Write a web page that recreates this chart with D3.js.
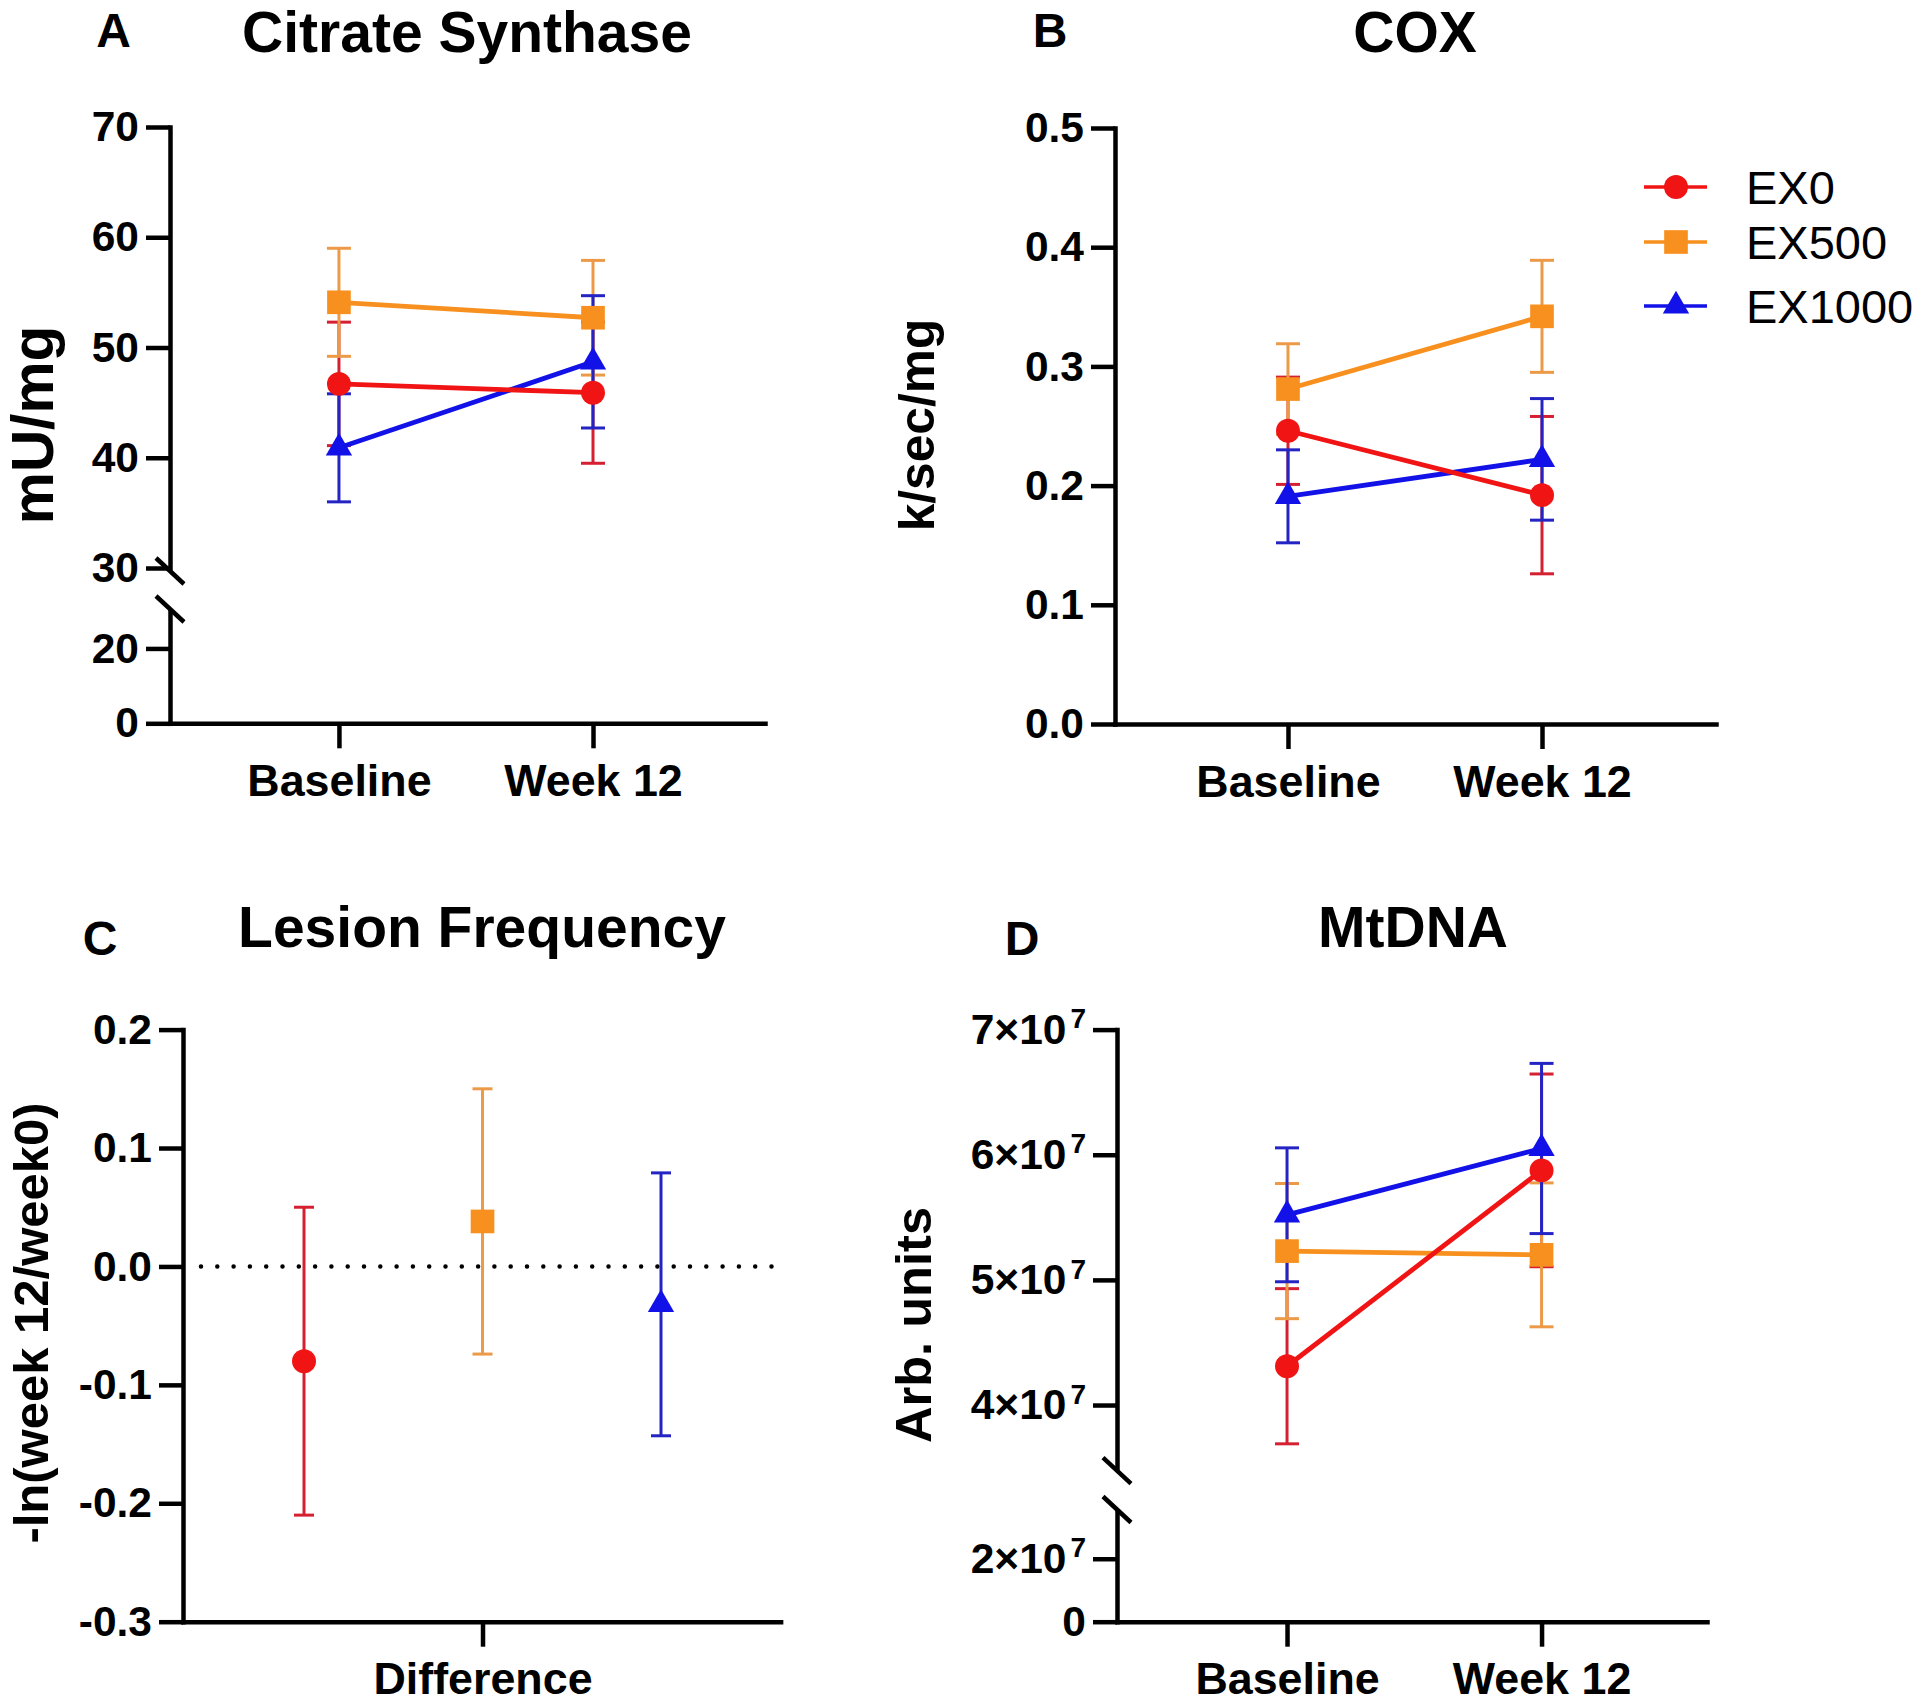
<!DOCTYPE html>
<html><head><meta charset="utf-8">
<script src="https://cdn.jsdelivr.net/npm/d3@7"></script>
<style>
body{margin:0;background:#fff;}
svg text{font-family:"Liberation Sans",Arial,sans-serif;fill:#000;}
</style></head><body>
<svg id="chart" width="1920" height="1703"></svg>
<script>
// ---------------- data ----------------
const groups = ["EX0", "EX500", "EX1000"];
const timepoints = ["Baseline", "Week 12"];
const diffLabel = ["Difference"];

// Citrate synthase (mU/mg): [baseline, week 12] per group
const csMeans = [[46.7, 45.9], [54.1, 52.7], [40.9, 48.7]];
const csErrs  = [[5.6, 6.4], [4.9, 5.2], [4.9, 6.0]];
const csTicksLower = [0, 20];
const csTicksUpper = [30, 40, 50, 60, 70];

// COX (k/sec/mg)
const coxMeans = [[0.246, 0.192], [0.281, 0.342], [0.191, 0.222]];
const coxErrs  = [[0.045, 0.066], [0.038, 0.047], [0.039, 0.051]];
const coxTicks = [0, 0.1, 0.2, 0.3, 0.4, 0.5];

// Lesion frequency: -ln(week12/week0)
const lesionMeans = [-0.080, 0.038, -0.032];
const lesionErrs  = [0.130, 0.112, 0.111];
const lesionTicks = [-0.3, -0.2, -0.1, 0, 0.1, 0.2];

// MtDNA (arb. units)
const mtMeans = [[4.31e7, 5.875e7], [5.23e7, 5.20e7], [5.52e7, 6.05e7]];
const mtErrs  = [[0.62e7, 0.77e7], [0.54e7, 0.575e7], [0.535e7, 0.68e7]];
const mtTicksLower = [0, 2e7];
const mtTicksUpper = [4e7, 5e7, 6e7, 7e7];

// ---------------- style ----------------
const colors    = ["#f01414", "#f7901e", "#1212e8"];
const errColors = ["#d42030", "#ec9a48", "#2424c4"];
const symbolTypes = [d3.symbolCircle, d3.symbolSquare, d3.symbolTriangle];
const symbolSizes = [450, 560, 300];
const FONT = '"Liberation Sans", Arial, sans-serif';

const svg = d3.select("#chart");

function styleAxis(ax, fs) {
  ax.attr("font-family", null).attr("font-size", null);
  ax.select(".domain").attr("stroke", "#000").attr("stroke-width", 4.5).attr("stroke-linecap", "square");
  ax.selectAll(".tick line").attr("stroke", "#000").attr("stroke-width", 4.5);
  ax.selectAll(".tick text").attr("fill", "#000")
    .style("font-size", fs + "px").style("font-weight", "bold").style("font-family", FONT);
}

function panel(p) {
  const g = svg.append("g");
  const x = d3.scaleLinear().domain(p.xDomain).range(p.xRange);
  const segs = p.segments.map(s => Object.assign({}, s, {
    scale: d3.scaleLinear().domain(s.domain).range(s.range)
  }));
  const y = v => {
    const s = segs.find(s => v >= s.domain[0] && v <= s.domain[1]) || segs[segs.length - 1];
    return s.scale(v);
  };
  const x0 = p.xRange[0];
  const yBase = segs[0].range[0];

  // y axes (one per segment)
  segs.forEach(s => {
    const ax = g.append("g").attr("transform", `translate(${x0},0)`)
      .call(d3.axisLeft(s.scale).tickValues(s.ticks).tickFormat(p.yFormat)
        .tickSize(24).tickSizeOuter(0).tickPadding(7));
    styleAxis(ax, 42.5);
    if (p.superscript) {
      ax.selectAll(".tick text").each(function(d) {
        const t = d3.select(this);
        t.text(null);
        if (d === 0) { t.text("0"); return; }
        t.append("tspan").text(`${d / 1e7}×10`);
        t.append("tspan").text("7").style("font-size", "28px").attr("dx", 4).attr("dy", "-0.55em");
      });
    }
  });

  // axis break marks
  if (segs.length > 1) {
    const b = segs[0].domain[1];
    [segs[1].scale(b) + 3, segs[0].scale(b) - 2].forEach(yy => {
      g.append("line").attr("x1", x0 - 14).attr("y1", yy - 13).attr("x2", x0 + 14).attr("y2", yy + 13)
        .attr("stroke", "#000").attr("stroke-width", 4.5);
    });
  }

  // x axis
  const xa = g.append("g").attr("transform", `translate(0,${yBase})`)
    .call(d3.axisBottom(x).tickValues(p.xTicks).tickFormat((d, i) => p.xLabels[i])
      .tickSize(25).tickSizeOuter(0).tickPadding(16));
  styleAxis(xa, 44.8);

  // reference line
  if (p.zeroLine) {
    g.append("line").attr("x1", x0 + 18).attr("x2", p.xRange[1] - 5)
      .attr("y1", y(0)).attr("y2", y(0))
      .attr("stroke", "#000").attr("stroke-width", 4.5)
      .attr("stroke-linecap", "round").attr("stroke-dasharray", "0 16.3");
  }

  const cap = p.capWidth / 2;
  // error bars
  p.series.forEach((s, gi) => {
    s.means.forEach((m, i) => {
      const e = s.errs[i], xi = x(s.xs[i]);
      const eg = g.append("g").attr("stroke", errColors[gi]).attr("stroke-width", 3).attr("fill", "none");
      eg.append("line").attr("x1", xi).attr("x2", xi).attr("y1", y(m - e)).attr("y2", y(m + e));
      eg.append("line").attr("x1", xi - cap).attr("x2", xi + cap).attr("y1", y(m - e)).attr("y2", y(m - e));
      eg.append("line").attr("x1", xi - cap).attr("x2", xi + cap).attr("y1", y(m + e)).attr("y2", y(m + e));
    });
  });
  // connecting lines (drawn last group first so EX0 sits on top)
  const order = [2, 1, 0];
  if (p.connect) {
    order.forEach(gi => {
      const s = p.series[gi];
      g.append("path").datum(s.means)
        .attr("d", d3.line().x((d, i) => x(s.xs[i])).y(d => y(d)))
        .attr("fill", "none").attr("stroke", colors[gi]).attr("stroke-width", 4.8);
    });
  }
  order.forEach(gi => {
    const s = p.series[gi];
    s.means.forEach((m, i) => {
      g.append("path").attr("d", d3.symbol().type(symbolTypes[gi]).size(symbolSizes[gi])())
        .attr("transform", `translate(${x(s.xs[i])},${y(m)})`)
        .attr("fill", colors[gi]);
    });
  });

  // panel letter and title
  svg.append("text").attr("x", p.letterPos[0]).attr("y", p.letterPos[1]).attr("text-anchor", "middle")
    .style("font-size", "48px").style("font-weight", "bold").text(p.letter);
  svg.append("text").attr("x", p.titlePos[0]).attr("y", p.titlePos[1]).attr("text-anchor", "middle")
    .style("font-size", "57px").style("font-weight", "bold").text(p.title);
  // y title
  svg.append("text").attr("transform", `translate(${p.yTitlePos[0]},${p.yTitlePos[1]}) rotate(-90)`)
    .attr("text-anchor", "middle").attr("dy", "0.35em")
    .style("font-size", p.yTitleSize + "px").style("font-weight", "bold").text(p.yTitle);
}

const f1 = v => v.toFixed(1);
const lineSeries = (means, errs) => groups.map((gname, gi) => ({
  means: means[gi], errs: errs[gi], xs: timepoints.map((t, i) => i)
}));

// Panel A
panel({
  letter: "A", letterPos: [113.5, 47], title: "Citrate Synthase", titlePos: [467, 52],
  yTitle: "mU/mg", yTitleSize: 58.5, yTitlePos: [33, 425],
  xDomain: [-0.665, 1.677], xRange: [170, 765],
  segments: [
    { domain: [0, 30], range: [723.3, 611], ticks: csTicksLower },
    { domain: [30, 70], range: [568, 127], ticks: csTicksUpper }
  ],
  yFormat: d => String(d),
  xTicks: [0, 1], xLabels: timepoints,
  series: lineSeries(csMeans, csErrs), connect: true, capWidth: 24
});

// Panel B
panel({
  letter: "B", letterPos: [1050, 47], title: "COX", titlePos: [1415, 52],
  yTitle: "k/sec/mg", yTitleSize: 49.7, yTitlePos: [917, 425],
  xDomain: [-0.681, 1.685], xRange: [1115, 1716],
  segments: [{ domain: [0, 0.5], range: [724, 128], ticks: coxTicks }],
  yFormat: f1,
  xTicks: [0, 1], xLabels: timepoints,
  series: lineSeries(coxMeans, coxErrs), connect: true, capWidth: 24
});

// Panel C
panel({
  letter: "C", letterPos: [100, 955], title: "Lesion Frequency", titlePos: [482, 947],
  yTitle: "-ln(week 12/week0)", yTitleSize: 49, yTitlePos: [31, 1323],
  xDomain: [-0.678, 2.67], xRange: [183, 780.6],
  segments: [{ domain: [-0.3, 0.2], range: [1621.7, 1029.6], ticks: lesionTicks }],
  yFormat: f1,
  xTicks: [1], xLabels: diffLabel,
  series: groups.map((gname, gi) => ({ means: [lesionMeans[gi]], errs: [lesionErrs[gi]], xs: [gi] })),
  connect: false, capWidth: 20, zeroLine: true
});

// Panel D
panel({
  letter: "D", letterPos: [1022, 955], title: "MtDNA", titlePos: [1413, 947],
  yTitle: "Arb. units", yTitleSize: 50.6, yTitlePos: [913, 1325],
  xDomain: [-0.668, 1.65], xRange: [1117, 1707],
  segments: [
    { domain: [0, 3.5e7], range: [1621.7, 1511.5], ticks: mtTicksLower },
    { domain: [3.5e7, 7e7], range: [1467.6, 1029.6], ticks: mtTicksUpper }
  ],
  yFormat: d => String(d), superscript: true,
  xTicks: [0, 1], xLabels: timepoints,
  series: lineSeries(mtMeans, mtErrs), connect: true, capWidth: 24
});

// Legend
const legendY = [187, 242, 306];
const leg = svg.append("g");
groups.forEach((gname, gi) => {
  const row = leg.append("g").attr("transform", `translate(0,${legendY[gi]})`);
  row.append("line").attr("x1", 1644).attr("x2", 1707).attr("stroke", colors[gi]).attr("stroke-width", 3.5);
  row.append("path").attr("d", d3.symbol().type(symbolTypes[gi]).size(symbolSizes[gi])())
    .attr("transform", "translate(1676,0)").attr("fill", colors[gi]);
  row.append("text").attr("x", 1746).attr("dy", "0.36em").style("font-size", "47px").text(gname);
});
</script>
</body></html>
